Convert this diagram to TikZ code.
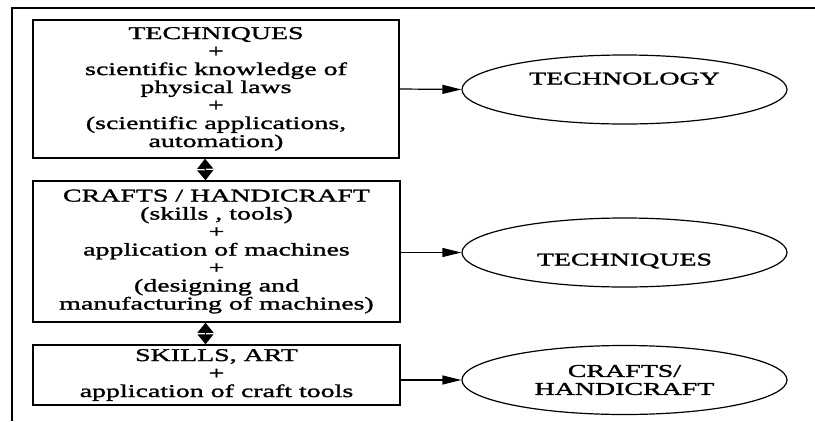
\documentclass[tikz,border=0pt]{standalone}
\usepackage{fontspec}
\setmainfont{Liberation Serif}[FakeStretch=1.55,FakeBold=1.5]
\usepackage{tikz}
\usetikzlibrary{calc,shapes.geometric,arrows.meta}
\def\drawlink{\draw[line width=1.2pt, -{Triangle[length=19pt,width=9pt]}]}
\def\drawswap{\draw[line width=1.2pt, {Triangle[length=10pt,width=16pt]}-{Triangle[length=10pt,width=16pt]}]}
\def\stagenode{\node[draw, line width=1.5pt, align=center, inner sep=0pt]}
\def\resultnode{\node[ellipse, draw, line width=1.2pt, minimum width=325pt, minimum height=69pt, inner sep=0pt, align=center]}

\begin{document}
\begin{tikzpicture}[x=1pt,y=-1pt,font=\fontsize{18}{18}\selectfont]
\useasboundingbox (0,0) rectangle (815,421);

% the frame, cut off at the right and at the bottom
\coordinate (frame_bl) at (12,421);
\coordinate (frame_tl) at (12,8);
\coordinate (frame_tr) at (815,8);
\draw[line width=1.8pt] (frame_bl) -- (frame_tl) -- (frame_tr);

% ---------- the three stages, top to bottom
\stagenode[minimum width=366pt, minimum height=138pt] (tech) at (216,89)
  {TECHNIQUES\\+\\scientific knowledge of\\physical laws\\+\\(scientific applications,\\automation)};
\stagenode[minimum width=367pt, minimum height=141pt] (craft) at (216.5,251.5)
  {CRAFTS / HANDICRAFT\\(skills , tools)\\+\\application of machines\\+\\(designing and\\manufacturing of machines)};
\stagenode[minimum width=367pt, minimum height=60pt] (skill) at (216.5,375)
  {SKILLS, ART\\+\\application of craft tools};

% double arrows between the stages
\drawswap ($ (tech.south) + (-11,0) $) -- ($ (craft.north) + (-11,0) $);
\drawswap ($ (craft.south) + (-11,0) $) -- ($ (skill.north) + (-11,0) $);

% ---------- what each stage gives
\resultnode[text height=12pt, text depth=22pt] (technology) at (624.5,89.5) {TECHNOLOGY};
\resultnode[text height=26pt, text depth=0pt] (techniques) at (624.5,252.5) {TECHNIQUES};
\resultnode (crafts) at (624.5,380) {CRAFTS/\\HANDICRAFT};

\drawlink (tech.east) -- (technology.west);
\drawlink (craft.east |- techniques.west) -- (techniques.west);
\drawlink (skill.east |- crafts.west) -- (crafts.west);
\end{tikzpicture}
\end{document}
